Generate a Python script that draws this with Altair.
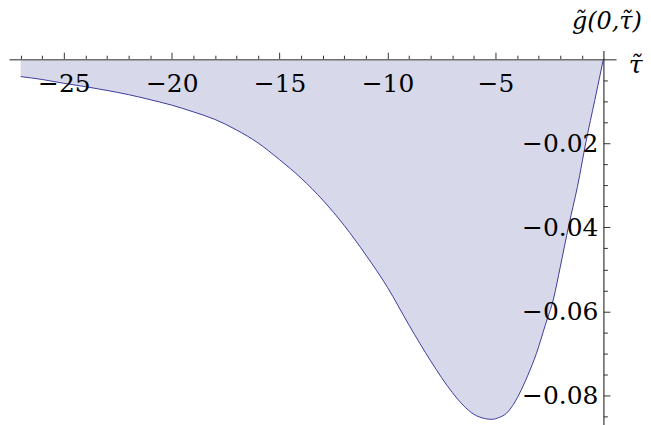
import altair as alt
import pandas as pd

# curve values
TAU = [-27.0, -26.0, -25.0, -24.0, -23.0, -22.0, -21.0, -20.0, -19.0, -18.0,
       -17.0, -16.0, -15.0, -14.0, -13.0, -12.0, -11.0, -10.0, -9.0, -8.0,
       -7.0, -6.5, -6.0, -5.5, -5.2, -4.8, -4.5, -4.2, -3.9, -3.5,
       -3.1, -2.7, -2.3, -2.0, -1.6, -1.2, -0.8, -0.4, 0.0]
G = [-0.0041, -0.0048, -0.0057, -0.0065, -0.0074, -0.0084, -0.0096, -0.0109, -0.0125, -0.0143,
     -0.0168, -0.0199, -0.0239, -0.0283, -0.0335, -0.0396, -0.0466, -0.0543, -0.0633, -0.0718,
     -0.0793, -0.0823, -0.0845, -0.0855, -0.0857, -0.0852, -0.0843, -0.0824, -0.0797, -0.0752,
     -0.0700, -0.0634, -0.0568, -0.0495, -0.0395, -0.0303, -0.0195, -0.0098, 0.0]

X_TICKS = [-27, -26, -25, -24, -23, -22, -21, -20, -19, -18, -17, -16, -15, -14,
           -13, -12, -11, -10, -9, -8, -7, -6, -5, -4, -3, -2, -1]
Y_TICKS = [-0.005, -0.01, -0.015, -0.02, -0.025, -0.03, -0.035, -0.04, -0.045,
           -0.05, -0.055, -0.06, -0.065, -0.07, -0.075, -0.08, -0.085]
X_DOMAIN = [-27.54, 0.59]
Y_DOMAIN = [-0.0876, 0.0021]
X_TITLE = "\u03c4\u0303"
Y_TITLE = "g\u0303(0,\u03c4\u0303)"

FONT = "'DejaVu Serif', serif"
FILL = "#d8d8eb"
LINE = "#3d3d99"

df = pd.DataFrame({"tau": TAU, "g": G})

x_axis = alt.Axis(
    orient="top", offset=-8.7, values=X_TICKS, grid=False, zindex=1,
    domainColor="#6f6f6f", domainWidth=1.5,
    tickColor="#333333", tickWidth=1,
    tickSize={"condition": {"test": "datum.value % 5 === 0", "value": 7}, "value": 4},
    labelExpr="datum.value % 5 === 0 ? '\u2212' + abs(datum.value) : ''",
    labelFont=FONT, labelFontSize=25, labelColor="#000000",
    labelAlign="center", labelBaseline="alphabetic", labelPadding=-39.5,
    labelOverlap=False, labelFlush=False,
    title=X_TITLE, titleFont=FONT, titleFontSize=25, titleFontStyle="italic",
    titleFontWeight="normal", titleColor="#000000",
    titleX=628, titleY=13, titleAlign="center", titleBaseline="alphabetic", titleAngle=0,
)

y_axis = alt.Axis(
    orient="right", offset=-12.7, values=Y_TICKS, grid=False, zindex=1,
    domainColor="#111111", domainWidth=1,
    tickColor="#333333", tickWidth=1,
    tickSize={"condition": {"test": "round(datum.value * 1000) % 20 === 0", "value": 6.5}, "value": 4},
    labelExpr="round(datum.value * 1000) % 20 === 0 ? '\u2212' + format(abs(datum.value), '.2f') : ''",
    labelFont=FONT, labelFontSize=25, labelColor="#000000",
    labelAlign="right", labelBaseline="middle", labelPadding=-12,
    labelOverlap=False, labelFlush=False,
    title=Y_TITLE, titleFont=FONT, titleFontSize=24, titleFontStyle="italic",
    titleFontWeight="normal", titleColor="#000000",
    titleX=3, titleY=-21.7, titleAlign="center", titleBaseline="alphabetic", titleAngle=0,
)

x_enc = alt.X("tau:Q", scale=alt.Scale(domain=X_DOMAIN, nice=False, zero=False), axis=x_axis)
y_enc = alt.Y("g:Q", scale=alt.Scale(domain=Y_DOMAIN, nice=False, zero=False), axis=y_axis)

area = alt.Chart(df).mark_area(color=FILL, opacity=1, interpolate="monotone").encode(
    x=x_enc, y=y_enc, y2=alt.datum(0)
)
line = alt.Chart(df).mark_line(color=LINE, strokeWidth=1, interpolate="monotone").encode(
    x=x_enc, y=y_enc
)

chart = alt.layer(area, line).properties(
    width=609, height=378,
    autosize=alt.AutoSizeParams(type="none"),
    padding={"left": 1, "top": 42, "right": 27, "bottom": 0},
    background="white",
).configure_view(stroke=None)

chart.save("out.html", embed_options={"renderer": "svg", "actions": False})
